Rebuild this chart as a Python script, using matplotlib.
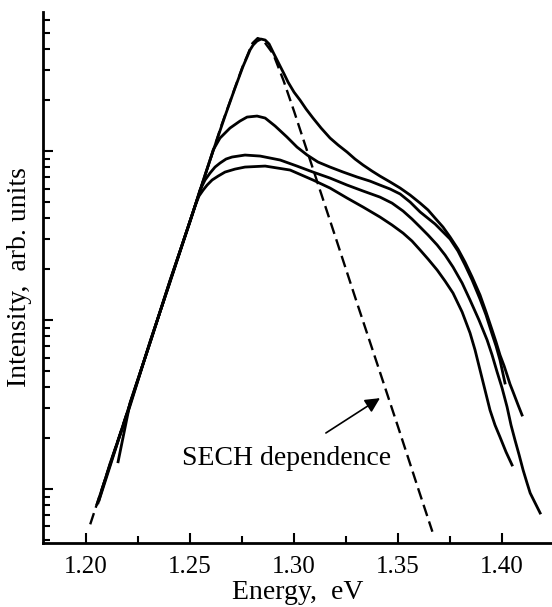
import matplotlib
matplotlib.use("Agg")
from matplotlib import pyplot as plt
from matplotlib.ticker import MultipleLocator, LogLocator, NullFormatter

plt.rcParams['font.family'] = ['Liberation Serif', 'DejaVu Serif']

# photoluminescence spectra, four excitation levels (eV, arb. units)
energy_a = [1.2053, 1.2115, 1.2212, 1.2308, 1.2404, 1.2500, 1.2596, 1.2668, 1.2716,
            1.2755, 1.2774, 1.2788, 1.2803, 1.2822, 1.2841, 1.2861, 1.2880, 1.2899,
            1.2918, 1.2933, 1.2952, 1.2971, 1.3000, 1.3029, 1.3058, 1.3091, 1.3130,
            1.3173, 1.3212, 1.3255, 1.3293, 1.3332, 1.3375, 1.3413, 1.3462, 1.3510,
            1.3558, 1.3606, 1.3644, 1.3678, 1.3716, 1.3750, 1.3788, 1.3822, 1.3856,
            1.3894, 1.3923, 1.3952, 1.3971, 1.3990, 1.4010, 1.4024, 1.4038, 1.4053,
            1.4077, 1.4096]
intens_a = [0.00815, 0.0139, 0.0318, 0.0741, 0.170, 0.385, 0.885, 1.611, 2.36,
            3.18, 3.60, 3.96, 4.24, 4.48, 4.60, 4.54, 4.30, 3.85,
            3.46, 3.18, 2.86, 2.56, 2.23, 2.00, 1.772, 1.568, 1.368,
            1.194, 1.085, 0.986, 0.897, 0.826, 0.761, 0.711, 0.656, 0.604,
            0.549, 0.492, 0.448, 0.401, 0.355, 0.310, 0.263, 0.220, 0.1796,
            0.1406, 0.1115, 0.0873, 0.0741, 0.0621, 0.0534, 0.0473, 0.0418, 0.0375,
            0.0314, 0.0274]

energy_b = [1.2063, 1.2115, 1.2212, 1.2308, 1.2404, 1.2500, 1.2572, 1.2596, 1.2611,
            1.2644, 1.2692, 1.2740, 1.2774, 1.2822, 1.2861, 1.2909, 1.2966, 1.3014,
            1.3063, 1.3115, 1.3173, 1.3236, 1.3303, 1.3365, 1.3413, 1.3462, 1.3510,
            1.3558, 1.3606, 1.3678, 1.3750, 1.3788, 1.3822, 1.3856, 1.3894, 1.3923,
            1.3952, 1.3971, 1.3990, 1.4014]
intens_b = [0.00861, 0.0136, 0.0322, 0.0735, 0.172, 0.383, 0.721, 0.885, 1.014,
            1.194, 1.368, 1.505, 1.589, 1.611, 1.568, 1.406, 1.210, 1.056,
            0.947, 0.861, 0.804, 0.751, 0.702, 0.664, 0.629, 0.596, 0.557,
            0.499, 0.436, 0.370, 0.3015, 0.256, 0.2116, 0.1724, 0.1331, 0.1070,
            0.0826, 0.0702, 0.0580, 0.0424]

energy_c = [1.2058, 1.2115, 1.2212, 1.2308, 1.2404, 1.2500, 1.2524, 1.2548, 1.2572,
            1.2596, 1.2620, 1.2644, 1.2673, 1.2702, 1.2764, 1.2837, 1.2933, 1.3014,
            1.3091, 1.3173, 1.3255, 1.3332, 1.3413, 1.3471, 1.3524, 1.3567, 1.3606,
            1.3644, 1.3688, 1.3726, 1.3764, 1.3808, 1.3846, 1.3889, 1.3928, 1.3952,
            1.3976, 1.4000, 1.4024, 1.4043, 1.4062, 1.4082, 1.4101, 1.4120, 1.4135,
            1.4159, 1.4183]
intens_c = [0.0083, 0.0141, 0.0312, 0.0748, 0.168, 0.386, 0.473, 0.588, 0.674,
            0.741, 0.804, 0.849, 0.897, 0.922, 0.947, 0.934, 0.885, 0.815,
            0.751, 0.692, 0.629, 0.580, 0.534, 0.492, 0.4416, 0.396, 0.355,
            0.3184, 0.278, 0.2424, 0.206, 0.1655, 0.1313, 0.100, 0.0762, 0.0621,
            0.0493, 0.0396, 0.0306, 0.0239, 0.0195, 0.0159, 0.01296, 0.01085, 0.00947,
            0.00826, 0.00721]

energy_d = [1.2154, 1.2212, 1.2308, 1.2404, 1.2452, 1.2524, 1.2543, 1.2563, 1.2582,
            1.2606, 1.2635, 1.2668, 1.2716, 1.2764, 1.2861, 1.2981, 1.3091, 1.3173,
            1.3255, 1.3332, 1.3413, 1.3471, 1.3524, 1.3567, 1.3606, 1.3644, 1.3688,
            1.3726, 1.3764, 1.3808, 1.3846, 1.3870, 1.3894, 1.3918, 1.3942, 1.3966,
            1.3990, 1.4019, 1.4048]
intens_d = [0.0145, 0.0325, 0.0737, 0.171, 0.256, 0.473, 0.542, 0.588, 0.629,
            0.674, 0.711, 0.751, 0.782, 0.804, 0.815, 0.772, 0.674, 0.604,
            0.527, 0.466, 0.407, 0.365, 0.327, 0.2934, 0.2596, 0.2296, 0.1976,
            0.170, 0.1445, 0.1115, 0.0838, 0.0665, 0.0506, 0.0385, 0.0293, 0.0239,
            0.0203, 0.01656, 0.01387]

# sech fit to the strongest spectrum
energy_sech = [1.202, 1.21, 1.22, 1.23, 1.24, 1.25, 1.26, 1.265, 1.27, 1.275, 1.28,
               1.2825, 1.285, 1.29, 1.295, 1.30, 1.31, 1.32, 1.33, 1.34, 1.35, 1.36,
               1.3665]
intens_sech = [0.00618, 0.0123, 0.0291, 0.0689, 0.163, 0.386, 0.913, 1.41, 2.09, 3.10,
               4.35, 4.66, 4.55, 3.75, 2.60, 1.72, 0.726, 0.307, 0.129, 0.0549, 0.0233,
               0.00977, 0.00559]

fig = plt.figure(figsize=(5.52, 6.07), dpi=100)
ax = fig.add_axes([0.0779, 0.1054, 0.9221, 0.8748])

for e, i in [(energy_a, intens_a), (energy_b, intens_b),
             (energy_c, intens_c), (energy_d, intens_d)]:
    ax.plot(e, i, color='black', lw=2.0, solid_joinstyle='round')
ax.plot(energy_sech, intens_sech, color='black', lw=1.7, dashes=(5, 2.4))

ax.annotate('SECH dependence', xy=(1.3413, 0.0345), xytext=(1.2966, 0.01525),
            ha='center', va='center', fontsize=20,
            arrowprops=dict(arrowstyle='-|>', color='black', lw=1.2,
                            mutation_scale=22, shrinkA=13, shrinkB=0))

ax.set_yscale('log')
ax.set_xlim(1.1793, 1.424)
ax.set_ylim(0.00479, 6.65)

ax.xaxis.set_major_locator(MultipleLocator(0.05))
ax.xaxis.set_minor_locator(MultipleLocator(0.025))
ax.xaxis.set_major_formatter(plt.FuncFormatter(lambda v, p: f'{v:.2f}'))
ax.yaxis.set_major_locator(LogLocator(base=10))
ax.yaxis.set_minor_locator(LogLocator(base=10, subs=range(2, 10)))
ax.yaxis.set_major_formatter(NullFormatter())
ax.yaxis.set_minor_formatter(NullFormatter())

ax.spines['top'].set_visible(False)
ax.spines['right'].set_visible(False)
for s in ['left', 'bottom']:
    ax.spines[s].set_linewidth(2)

ax.tick_params(which='both', direction='in', width=1.5, labelsize=18, pad=9)
ax.tick_params(which='major', length=7)
ax.tick_params(which='minor', length=5)

ax.set_xlabel('Energy,  eV', fontsize=20, labelpad=2)
ax.set_ylabel('Intensity,  arb. units', fontsize=20, labelpad=-1)

fig.savefig('out.png', dpi=100)
